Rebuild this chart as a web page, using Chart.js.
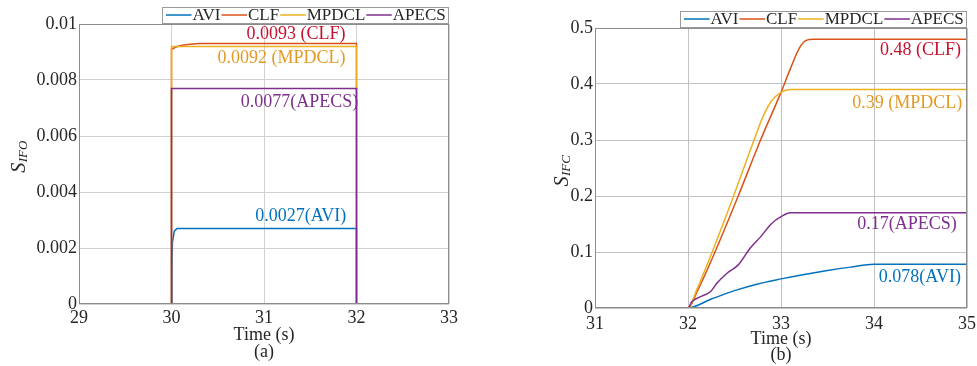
<!DOCTYPE html>
<html>
<head>
<meta charset="utf-8">
<script src="https://cdn.jsdelivr.net/npm/chart.js@4"></script>
<style>
  html, body { margin: 0; padding: 0; background: #fff; }
  #wrap { position: relative; width: 977px; height: 366px; overflow: hidden; }
  .panel { position: absolute; top: 0; }
  #pa { left: 0; width: 488px; height: 366px; }
  #pb { left: 488px; width: 500px; height: 366px; }
</style>
</head>
<body>
<div id="wrap">
  <div class="panel" id="pa"><canvas id="ca" width="488" height="366"></canvas></div>
  <div class="panel" id="pb"><canvas id="cb" width="500" height="366"></canvas></div>
</div>
<script>
// ---- series names ----
const seriesNames = ['AVI', 'CLF', 'MPDCL', 'APECS'];

// ---- panel (a): S_IFO, time 29–33 s ----
const tAVI_a   = [29, 30, 30.005, 30.01, 30.03, 30.06, 32, 32, 33];
const sAVI_a   = [0, 0, 0.0012, 0.0022, 0.0026, 0.0027, 0.0027, 0, 0];
const tCLF_a   = [29, 30, 30, 30.05, 30.1, 30.2, 30.3, 32, 32, 33];
const sCLF_a   = [0, 0, 0.0091, 0.00918, 0.00923, 0.00928, 0.0093, 0.0093, 0, 0];
const tMPDCL_a = [29, 30, 30, 32, 32, 33];
const sMPDCL_a = [0, 0, 0.0092, 0.0092, 0, 0];
const tAPECS_a = [29, 30, 30, 32, 32, 33];
const sAPECS_a = [0, 0, 0.0077, 0.0077, 0, 0];
const xTicksA  = [29, 30, 31, 32, 33];
const yTicksA  = [0, 0.002, 0.004, 0.006, 0.008, 0.01];
const labelSuffixA = ['(AVI)', ' (CLF)', ' (MPDCL)', '(APECS)'];

// ---- panel (b): S_IFC, time 31–35 s ----
const tAVI_b   = [31, 32, 32.25, 32.5, 32.75, 33, 33.25, 33.5, 33.75, 34, 35];
const sAVI_b   = [0, 0, 0.016, 0.031, 0.043, 0.052, 0.06, 0.067, 0.073, 0.078, 0.078];
const tCLF_b   = [31, 32, 32.1, 32.29, 32.54, 32.78, 33, 33.1, 33.2, 33.27, 33.35, 35];
const sCLF_b   = [0, 0, 0.03, 0.1, 0.2, 0.3, 0.385, 0.427, 0.465, 0.478, 0.48, 0.48];
const tMPDCL_b = [31, 32, 32.1, 32.26, 32.49, 32.71, 32.81, 32.9, 33, 33.1, 35];
const sMPDCL_b = [0, 0, 0.035, 0.1, 0.2, 0.3, 0.343, 0.37, 0.385, 0.39, 0.39];
const tAPECS_b = [31, 32, 32.04, 32.13, 32.24, 32.31, 32.42, 32.54, 32.67, 32.78, 32.9, 33, 33.1, 35];
const sAPECS_b = [0, 0, 0.011, 0.02, 0.029, 0.044, 0.062, 0.077, 0.107, 0.127, 0.151, 0.163, 0.17, 0.17];
const xTicksB  = [31, 32, 33, 34, 35];
const yTicksB  = [0, 0.1, 0.2, 0.3, 0.4, 0.5];
const labelSuffixB = ['(AVI)', ' (CLF)', ' (MPDCL)', '(APECS)'];

// ---- styling ----
const FONT = '"Liberation Serif", "Times New Roman", serif';
const lineColors  = ['#0072BD', '#D95319', '#EDB120', '#7E2F8E'];
const labelColors = ['#0072BD', '#C8102E', '#E39A26', '#7E2F8E'];
const TEXT = '#262626';

function pts(t, s) { return t.map((x, i) => ({ x: x, y: s[i] })); }

function makeDatasets(pairs, smooth) {
  return pairs.map((p, i) => ({
    label: seriesNames[i],
    data: pts(p[0], p[1]),
    borderColor: lineColors[i],
    backgroundColor: lineColors[i],
    borderWidth: 1.5,
    pointRadius: 0,
    fill: false,
    tension: 0,
    cubicInterpolationMode: smooth ? 'monotone' : 'default',
    order: 3 - i
  }));
}

// frame around the plot area
const frameBox = {
  id: 'frameBox',
  afterDatasetsDraw(chart) {
    const { ctx, chartArea: a } = chart;
    ctx.save();
    ctx.strokeStyle = '#8c8c8c';
    ctx.lineWidth = 1;
    ctx.strokeRect(Math.round(a.left) + 0.5, Math.round(a.top) + 0.5,
                   Math.round(a.right - a.left) - 1, Math.round(a.bottom - a.top) - 1);
    ctx.restore();
  }
};

// compact boxed legend sitting on top of the plot, right aligned
const boxedLegend = {
  id: 'boxedLegend',
  afterDraw(chart) {
    const { ctx, chartArea: a } = chart;
    const seg = 27.5, pad = 3, h = 16;
    ctx.save();
    ctx.font = '17px ' + FONT;
    const items = chart.data.datasets.map(d => ({
      label: d.label, color: d.borderColor, w: ctx.measureText(d.label).width
    }));
    const total = items.reduce((s, it) => s + seg + it.w, 0) + pad * 2;
    const right = Math.round(a.right), bottom = Math.round(a.top) - 1;
    const left = Math.round(right - total);
    ctx.fillStyle = '#fff';
    ctx.fillRect(left, bottom - h, right - left, h);
    ctx.strokeStyle = '#9a9a9a';
    ctx.lineWidth = 1;
    ctx.strokeRect(left + 0.5, bottom - h + 0.5, right - left - 1, h);
    const cy = bottom - h / 2;
    let x = left + pad;
    ctx.textBaseline = 'middle';
    ctx.textAlign = 'left';
    items.forEach(it => {
      ctx.strokeStyle = it.color;
      ctx.lineWidth = 1.5;
      ctx.beginPath();
      ctx.moveTo(x + 1, cy);
      ctx.lineTo(x + seg - 1, cy);
      ctx.stroke();
      x += seg;
      ctx.fillStyle = TEXT;
      ctx.fillText(it.label, x, cy + 1);
      x += it.w;
    });
    ctx.restore();
  }
};

// value callouts next to each plateau, value read from the series itself
function valueLabels(suffixes, place) {
  return {
    id: 'valueLabels',
    afterDatasetsDraw(chart) {
      const { ctx, scales: { x, y } } = chart;
      ctx.save();
      ctx.font = '18px ' + FONT;
      ctx.textAlign = 'right';
      ctx.textBaseline = 'middle';
      chart.data.datasets.forEach((d, i) => {
        const v = Math.max(...d.data.map(p => p.y));
        const px = x.getPixelForValue(place[i].x);
        const py = y.getPixelForValue(v) + place[i].dy;
        ctx.fillStyle = labelColors[i];
        ctx.fillText(String(v) + suffixes[i], px, py);
      });
      ctx.restore();
    }
  };
}

// italic S with subscript, rotated, as the y-axis title
function yTitle(main, sub, cx, cy) {
  return {
    id: 'yTitle',
    afterDraw(chart) {
      const ctx = chart.ctx;
      ctx.save();
      ctx.translate(cx, cy);
      ctx.rotate(-Math.PI / 2);
      ctx.fillStyle = TEXT;
      ctx.textBaseline = 'alphabetic';
      ctx.textAlign = 'left';
      ctx.font = 'italic 20px ' + FONT;
      const w1 = ctx.measureText(main).width;
      ctx.font = 'italic 13px ' + FONT;
      const w2 = ctx.measureText(sub).width;
      const x0 = -(w1 + w2) / 2;
      ctx.font = 'italic 20px ' + FONT;
      ctx.fillText(main, x0, 0);
      ctx.font = 'italic 13px ' + FONT;
      ctx.fillText(sub, x0 + w1 + 0.5, 2);
      ctx.restore();
    }
  };
}

function makeChart(canvas, datasets, cfg) {
  return new Chart(canvas, {
    type: 'line',
    data: { datasets },
    options: {
      responsive: false,
      animation: false,
      devicePixelRatio: 1,
      layout: { padding: cfg.padding },
      plugins: { legend: { display: false }, tooltip: { enabled: false } },
      scales: {
        x: {
          type: 'linear',
          min: cfg.xTicks[0], max: cfg.xTicks[cfg.xTicks.length - 1],
          afterBuildTicks: s => { s.ticks = cfg.xTicks.map(v => ({ value: v })); },
          afterFit: s => { s.height = cfg.xHeight; },
          grid: { color: cfg.gridColor, lineWidth: 1, drawTicks: false },
          border: { display: false },
          ticks: { color: TEXT, font: { family: FONT, size: 18 }, padding: cfg.xPad,
                   maxRotation: 0, autoSkip: false, callback: v => String(v) },
          title: { display: true, text: cfg.xTitle, color: TEXT,
                   font: { family: FONT, size: 18, lineHeight: cfg.titleLH },
                   padding: { top: 0, bottom: cfg.titlePadBottom } }
        },
        y: {
          type: 'linear',
          min: cfg.yTicks[0], max: cfg.yTicks[cfg.yTicks.length - 1],
          afterBuildTicks: s => { s.ticks = cfg.yTicks.map(v => ({ value: v })); },
          afterFit: s => { s.width = cfg.yWidth; },
          grid: { color: cfg.gridColor, lineWidth: 1, drawTicks: false },
          border: { display: false },
          ticks: { color: TEXT, font: { family: FONT, size: 18 }, padding: 2,
                   autoSkip: false, callback: v => String(v) }
        }
      }
    },
    plugins: [frameBox, valueLabels(cfg.suffixes, cfg.place),
              yTitle(cfg.yMain, cfg.ySub, cfg.yTitleX, cfg.yTitleY), boxedLegend]
  });
}

makeChart(document.getElementById('ca'),
  makeDatasets([[tAVI_a, sAVI_a], [tCLF_a, sCLF_a], [tMPDCL_a, sMPDCL_a], [tAPECS_a, sAPECS_a]], false),
  {
    padding: { top: 24, left: 0, right: 39, bottom: 0 },
    xTicks: xTicksA, yTicks: yTicksA, xHeight: 62, yWidth: 79, xPad: 3,
    xTitle: ['Time (s)', '(a)'], titlePadBottom: 5.5, titleLH: 0.944, gridColor: '#d2d2d2',
    suffixes: labelSuffixA,
    place: [{ x: 31.89, dy: -12 }, { x: 31.88, dy: -9 }, { x: 31.88, dy: 12 }, { x: 32.02, dy: 13.5 }],
    yMain: 'S', ySub: 'IFO', yTitleX: 25, yTitleY: 157
  });

makeChart(document.getElementById('cb'),
  makeDatasets([[tAVI_b, sAVI_b], [tCLF_b, sCLF_b], [tMPDCL_b, sMPDCL_b], [tAPECS_b, sAPECS_b]], true),
  {
    padding: { top: 28, left: 0, right: 21, bottom: 0 },
    xTicks: xTicksB, yTicks: yTicksB, xHeight: 58, yWidth: 107, xPad: 5,
    xTitle: ['Time (s)', '(b)'], titlePadBottom: 3.3, titleLH: 0.85, gridColor: '#c2c2c2',
    suffixes: labelSuffixB,
    place: [{ x: 34.935, dy: 12.5 }, { x: 34.935, dy: 11 }, { x: 34.95, dy: 13.5 }, { x: 34.89, dy: 11 }],
    yMain: 'S', ySub: 'IFC', yTitleX: 80, yTitleY: 171
  });
</script>
</body>
</html>
